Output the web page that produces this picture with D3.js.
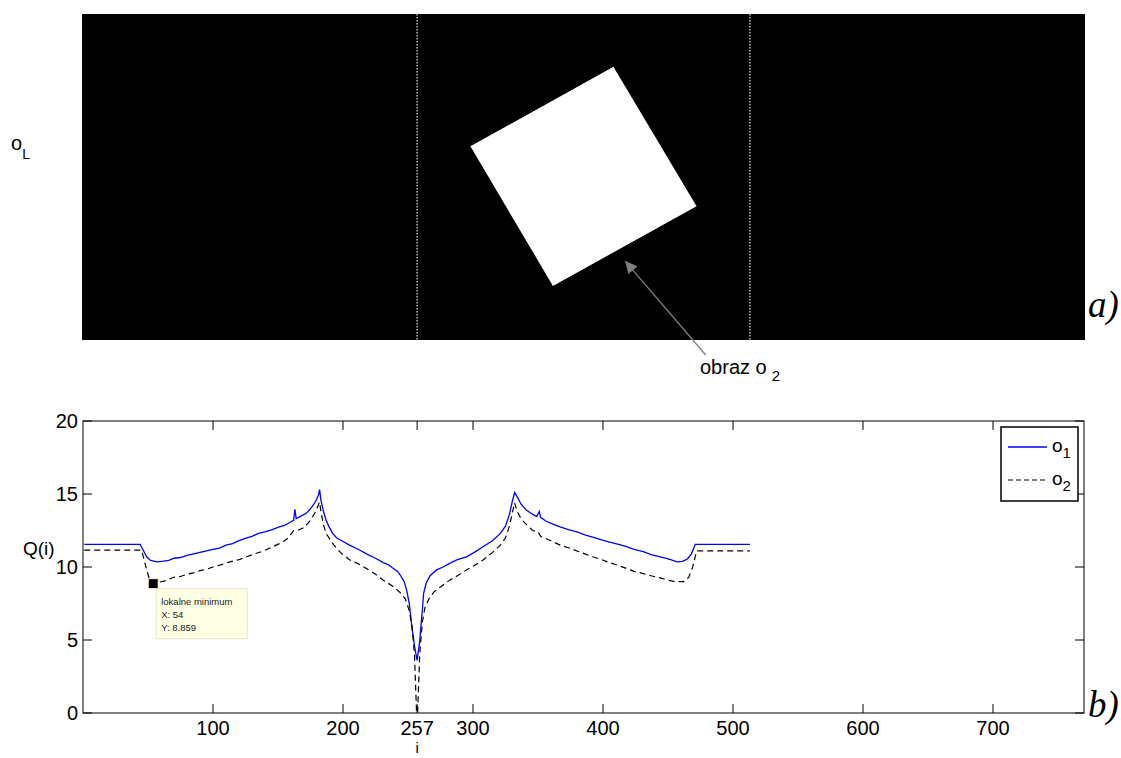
<!DOCTYPE html>
<html><head><meta charset="utf-8">
<script src="https://cdn.jsdelivr.net/npm/d3@7"></script>
<style>
body{margin:0;background:#fff;}
text{font-family:"Liberation Sans",Arial,sans-serif;}
</style></head>
<body><svg id="c" width="1121" height="758"></svg>
<script>
// ---- data ----
const xTicks = [100, 200, 257, 300, 400, 500, 600, 700];
const yTicks = [0, 5, 10, 15, 20];
const seriesNames = ["o1", "o2"];
// o1 (blue solid): [i, Q(i)]
const o1 = [[1,11.55],[44,11.55],[46,11.2],[49,10.7],[52,10.45],[57,10.35],[62,10.4],[66,10.45],[70,10.6],[75,10.65],[80,10.8],[85,10.9],[90,11.0],[95,11.1],[100,11.2],[105,11.3],[110,11.5],[115,11.6],[120,11.8],[126,12.0],[130,12.1],[135,12.3],[140,12.4],[145,12.55],[151,12.75],[155,12.85],[158,13.0],[162,13.2],[163,13.95],[164,13.3],[168,13.5],[172,13.7],[176,14.1],[179,14.5],[181,14.9],[182,15.3],[183,14.6],[185,13.8],[187,13.2],[189,12.8],[192,12.3],[195,12.0],[199,11.8],[205,11.5],[212,11.2],[218,10.9],[225,10.6],[231,10.3],[235,10.15],[238,9.95],[242,9.7],[244,9.45],[247,9.0],[249,8.4],[251,7.5],[253,5.9],[255,4.6],[257,3.6],[259,4.9],[260,6.0],[261,7.0],[262,8.2],[264,8.9],[267,9.4],[272,9.8],[277,10.0],[282,10.25],[288,10.5],[295,10.7],[301,11.0],[308,11.4],[315,11.8],[321,12.3],[325,12.8],[328,13.6],[330,14.4],[332,15.1],[334,14.8],[337,14.3],[341,13.9],[346,13.6],[349,13.45],[351,13.8],[352,13.4],[356,13.15],[361,12.95],[367,12.75],[374,12.55],[380,12.4],[386,12.2],[392,12.05],[399,11.85],[405,11.7],[412,11.55],[418,11.4],[424,11.2],[431,11.05],[437,10.85],[444,10.7],[448,10.6],[452,10.5],[457,10.35],[461,10.38],[465,10.55],[468,10.9],[471,11.55],[513,11.55]];
// o2 (black dashed): [i, Q(i)]
const o2 = [[1,11.15],[45,11.15],[47,10.5],[49,9.8],[51,9.2],[54,8.86],[58,8.95],[63,9.05],[70,9.3],[75,9.35],[80,9.5],[85,9.6],[90,9.75],[95,9.85],[100,10.0],[106,10.15],[113,10.35],[120,10.5],[126,10.7],[132,10.9],[139,11.1],[145,11.35],[151,11.6],[155,11.8],[158,12.0],[162,12.5],[165,12.5],[170,12.7],[175,13.2],[179,13.8],[182,14.45],[183,13.8],[185,12.9],[187,12.3],[190,11.9],[193,11.5],[198,11.0],[205,10.5],[212,10.2],[218,9.9],[225,9.5],[231,9.1],[238,8.7],[244,8.25],[248,7.8],[251,7.0],[253,6.0],[255,4.0],[256.6,0],[257.4,0],[259,4.0],[261,6.2],[263,7.2],[266,7.8],[270,8.3],[276,8.7],[282,9.1],[288,9.4],[295,9.8],[301,10.1],[308,10.5],[315,11.0],[321,11.5],[325,12.0],[328,12.8],[330,13.6],[332,14.4],[334,13.8],[337,13.3],[340,13.0],[346,12.5],[350,12.4],[352,12.1],[356,11.95],[360,11.8],[367,11.5],[374,11.3],[380,11.1],[386,10.9],[392,10.7],[399,10.5],[405,10.3],[412,10.1],[418,9.9],[424,9.7],[431,9.55],[437,9.4],[444,9.25],[450,9.1],[455,9.0],[462,9.0],[466,9.3],[469,10.0],[472,11.1],[513,11.1]];
// data tip
const tip = {x: 54, y: 8.859, label: "lokalne minimum"};
// top image panel (image columns / rows)
const imgRows = [0.5, 250.5];
const dividerCols = [257, 513];
const square = [[408, 41], [298, 102], [361.5, 209], [472, 148]];
const arrowFrom = [479, 262], arrowTo = [417, 190];

// ---- layout ----
const svg = d3.select("#c");
const L = 83, R = 1084;
const x = d3.scaleLinear().domain([0, 770]).range([L, R]);
const y = d3.scaleLinear().domain([0, 20]).range([713, 421]);
const yi = d3.scaleLinear().domain(imgRows).range([14, 340]);

// ===== panel a =====
svg.append("rect").attr("x", L - 1).attr("y", 14).attr("width", R - L + 2).attr("height", 326).attr("fill", "#000");
dividerCols.forEach(c => {
  svg.append("line").attr("x1", x(c)).attr("x2", x(c)).attr("y1", 14).attr("y2", 340)
    .attr("stroke", "#e8e8e8").attr("stroke-width", 1.2).attr("stroke-dasharray", "1.5,1.5");
});
svg.append("polygon").attr("points", square.map(p => [x(p[0]), yi(p[1])].join(",")).join(" "))
  .attr("fill", "#fff");
// arrow
svg.append("defs").append("marker").attr("id", "ah").attr("viewBox", "0 0 10 10")
  .attr("refX", 10).attr("refY", 5).attr("markerWidth", 15).attr("markerHeight", 12)
  .attr("markerUnits", "userSpaceOnUse").attr("orient", "auto")
  .append("path").attr("d", "M0,0 L10,5 L0,10 z").attr("fill", "#808080");
svg.append("line").attr("x1", x(arrowFrom[0])).attr("y1", yi(arrowFrom[1]))
  .attr("x2", x(arrowTo[0])).attr("y2", yi(arrowTo[1]))
  .attr("stroke", "#808080").attr("stroke-width", 1.3).attr("marker-end", "url(#ah)");
const ob = svg.append("text").attr("x", 700).attr("y", 374).attr("font-size", 20).text("obraz o");
ob.append("tspan").attr("dx", 5).attr("dy", 7).attr("font-size", 15).text("2");
const oL = svg.append("text").attr("x", 11).attr("y", 150).attr("font-size", 20).text("o");
oL.append("tspan").attr("dy", 9).attr("font-size", 14).text("L");
svg.append("text").attr("x", 1088).attr("y", 317).attr("font-size", 37)
  .attr("font-style", "italic").style("font-family", "'Liberation Serif','Times New Roman',serif").text("a)");

// ===== panel b =====
const g = svg.append("g");
g.append("rect").attr("x", L).attr("y", y(20)).attr("width", R - L).attr("height", y(0) - y(20))
  .attr("fill", "none").attr("stroke", "#000").attr("stroke-width", 1);
const tl = 9;
xTicks.forEach(t => {
  g.append("line").attr("x1", x(t)).attr("x2", x(t)).attr("y1", y(0)).attr("y2", y(0) - tl).attr("stroke", "#000");
  g.append("line").attr("x1", x(t)).attr("x2", x(t)).attr("y1", y(20)).attr("y2", y(20) + tl).attr("stroke", "#000");
  g.append("text").attr("x", x(t)).attr("y", 735).attr("text-anchor", "middle").attr("font-size", 20).text(t);
});
yTicks.forEach(t => {
  g.append("line").attr("x1", L).attr("x2", L + tl).attr("y1", y(t)).attr("y2", y(t)).attr("stroke", "#000");
  g.append("line").attr("x1", R).attr("x2", R - tl).attr("y1", y(t)).attr("y2", y(t)).attr("stroke", "#000");
  g.append("text").attr("x", 78).attr("y", y(t) + 7).attr("text-anchor", "end").attr("font-size", 20).text(t);
});
g.append("text").attr("x", x(257)).attr("y", 753).attr("text-anchor", "middle").attr("font-size", 15).text("i");
g.append("text").attr("x", 23).attr("y", 555).attr("font-size", 19).text("Q(i)");

const line = d3.line().x(d => x(d[0])).y(d => y(d[1]));
g.append("path").datum(o1).attr("d", line).attr("fill", "none").attr("stroke", "#0000ff").attr("stroke-width", 1.3);
g.append("path").datum(o2).attr("d", line).attr("fill", "none").attr("stroke", "#000").attr("stroke-width", 1.2).attr("stroke-dasharray", "6,4");

// data tip
g.append("rect").attr("x", x(tip.x) - 5).attr("y", y(tip.y) - 5).attr("width", 10).attr("height", 10)
  .attr("fill", "#000").attr("stroke", "#fffbd0").attr("stroke-width", 1);
const tb = g.append("g").attr("transform", `translate(${x(tip.x) + 3},${y(tip.y) + 5})`);
tb.append("rect").attr("width", 91).attr("height", 50).attr("fill", "#ffffe4").attr("stroke", "#e6e3c6");
[tip.label, "X: " + tip.x, "Y: " + tip.y].forEach((s, k) => {
  tb.append("text").attr("x", 5).attr("y", 16 + k * 13).attr("font-size", 9.5).attr("fill", "#222").text(s);
});

// legend
const lg = g.append("g").attr("transform", "translate(1001,427)");
lg.append("rect").attr("width", 77).attr("height", 74).attr("fill", "#fff").attr("stroke", "#000").attr("stroke-width", 1.5);
seriesNames.forEach((n, k) => {
  const yy = 20 + k * 33;
  lg.append("line").attr("x1", 7).attr("x2", 46).attr("y1", yy).attr("y2", yy)
    .attr("stroke", k === 0 ? "#0000ff" : "#000").attr("stroke-width", k === 0 ? 1.3 : 1.2)
    .attr("stroke-dasharray", k === 0 ? null : "5,3");
  const t = lg.append("text").attr("x", 51).attr("y", yy + 5).attr("font-size", 19).text(n[0]);
  t.append("tspan").attr("dy", 6).attr("font-size", 15).text(n.slice(1));
});
svg.append("text").attr("x", 1088).attr("y", 717).attr("font-size", 37)
  .attr("font-style", "italic").style("font-family", "'Liberation Serif','Times New Roman',serif").text("b)");
</script></body></html>
